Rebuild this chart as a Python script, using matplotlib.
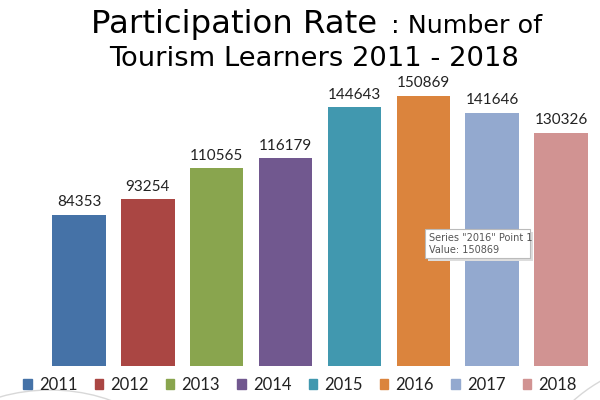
import matplotlib
matplotlib.use("Agg")
import matplotlib.pyplot as plt
from matplotlib.patches import FancyBboxPatch, Ellipse
import numpy as np

years = ["2011", "2012", "2013", "2014", "2015", "2016", "2017", "2018"]
learners = [84353, 93254, 110565, 116179, 144643, 150869, 141646, 130326]
colors = ["#4572A7", "#AA4643", "#89A54E", "#71588F", "#4198AF", "#DB843D", "#93A9CF", "#D19392"]
tooltip_lines = ['Series "2016" Point 1', "Value: 150869"]

W, H = 600, 400
fig = plt.figure(figsize=(6, 4), dpi=100)
fig.patch.set_facecolor("white")

def fx(px):
    return px / W

def fy(py):
    return 1 - py / H

# faint decorative arcs (background)
bg = fig.add_axes([0, 0, 1, 1], zorder=-1)
bg.set_xlim(0, W)
bg.set_ylim(H, 0)
bg.axis("off")
bg.add_patch(Ellipse((50, 480), 260, 180, fill=False, edgecolor="#D8D8D8", lw=1))
bg.add_patch(Ellipse((680, 520), 320, 320, fill=False, edgecolor="#D8D8D8", lw=1))

# axes: baseline at y=366, bar centres from ~79 with spacing ~68.9
left_px, right_px = 44.5, 595.5
top_px, bottom_px = 80, 366
ax = fig.add_axes([fx(left_px), fy(bottom_px), fx(right_px - left_px), (bottom_px - top_px) / H])
x = np.arange(len(years))
bars = ax.bar(x, learners, width=0.775, color=colors, edgecolor="none")
ax.set_xlim(-0.5, len(years) - 0.5)
ax.set_ylim(0, 150869 * (bottom_px - top_px) / (bottom_px - 96))
ax.axis("off")

for xi, v in zip(x, learners):
    ax.annotate(f"{v}", (xi, v), xytext=(0, 4), textcoords="offset points",
                ha="center", va="bottom", fontsize=11, family="Lato", color="#222222")

# title
fig.text(fx(91), fy(33), "Participation Rate", fontsize=23.3, family="DejaVu Sans",
         ha="left", va="baseline", color="black")
fig.text(fx(542), fy(33), ": Number of", fontsize=18.3, family="DejaVu Sans",
         ha="right", va="baseline", color="black")
fig.text(fx(314), fy(66), "Tourism Learners 2011 - 2018", fontsize=19.7, family="DejaVu Sans",
         ha="center", va="baseline", color="black")

# legend
handles = [plt.Rectangle((0, 0), 1, 1, color=c) for c in colors]
leg = fig.legend(handles, years, loc="center", bbox_to_anchor=(fx(300), fy(385)), ncol=8,
                 frameon=False, handlelength=0.5, handleheight=0.5, handletextpad=0.42,
                 columnspacing=1.05, borderpad=0, prop={"family": "Lato", "size": 12})
for t in leg.get_texts():
    t.set_color("#222222")

# tooltip box
box = FancyBboxPatch((fx(425), fy(258)), fx(105), 29 / H, boxstyle="square,pad=0",
                     transform=fig.transFigure, facecolor="white", edgecolor="#BBBBBB",
                     linewidth=0.8, zorder=5)
shadow = FancyBboxPatch((fx(427.5), fy(260.5)), fx(105), 29 / H, boxstyle="square,pad=0",
                        transform=fig.transFigure, facecolor="#DDDDDD", edgecolor="none",
                        zorder=4)
fig.patches.extend([shadow, box])
fig.text(fx(429), fy(238), tooltip_lines[0], fontsize=7, family="DejaVu Sans",
         color="#555555", ha="left", va="center", zorder=6)
fig.text(fx(429), fy(250), tooltip_lines[1], fontsize=7, family="DejaVu Sans",
         color="#555555", ha="left", va="center", zorder=6)

fig.savefig("out.png", dpi=100, facecolor="white")
